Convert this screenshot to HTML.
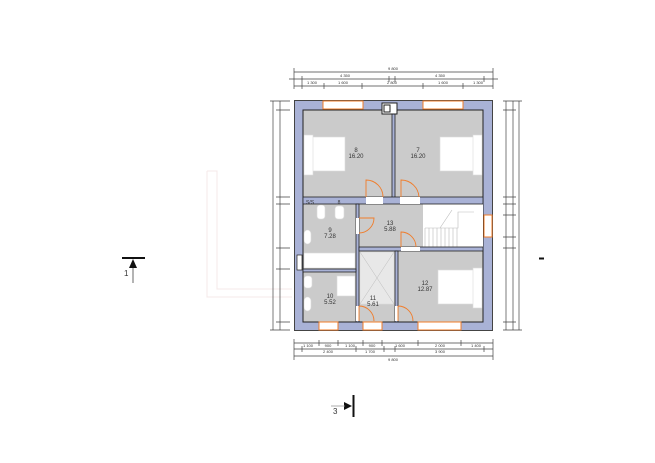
<!DOCTYPE html>
<html><head><meta charset="utf-8"><style>
html,body{margin:0;padding:0;background:#fff;width:655px;height:463px;overflow:hidden}
svg{display:block}
text{font-family:"Liberation Sans",sans-serif;fill:#333}
</style></head><body>
<svg width="655" height="463" viewBox="0 0 655 463" xmlns="http://www.w3.org/2000/svg">
<!-- faint outline left -->
<path d="M207 171 H217 V289 H292 M207 171 V297 H292" fill="none" stroke="#f5e8e8" stroke-width="1"/>
<!-- outer walls -->
<rect x="294.5" y="100.5" width="198" height="230" fill="#a9b2d6" stroke="#444" stroke-width="1"/>
<!-- rooms -->
<rect x="303" y="110" width="180" height="212" fill="#cbcbcb" stroke="#222" stroke-width="1"/>
<!-- stairs -->
<rect x="423" y="204" width="60" height="44" fill="#fff"/>
<g stroke="#bbb" stroke-width="0.6" fill="none">
<path d="M425 228 V247 M429 228 V247 M433 228 V247 M437 228 V247 M441 228 V247 M445 228 V247 M449 228 V247 M453 228 V247 M457 228 V247 M425 228 H458 V212 H474 M440 228 L452 210"/>
</g>
<!-- interior walls -->
<g fill="#a9b2d6" stroke="#222" stroke-width="0.8">
<rect x="392" y="110" width="3" height="88"/>
<rect x="303" y="197" width="180" height="7"/>
<rect x="356" y="204" width="3" height="118"/>
<rect x="303" y="269" width="53" height="3"/>
<rect x="359" y="247" width="124" height="4"/>
<rect x="395" y="251" width="3" height="71"/>
</g>
<!-- door openings -->
<g fill="#fff">
<rect x="366" y="197" width="17" height="7"/>
<rect x="400" y="197" width="20" height="7"/>
<rect x="356" y="218" width="3" height="16"/>
<rect x="401" y="247" width="19" height="4"/>
<rect x="356" y="306" width="3" height="15"/>
<rect x="395" y="306" width="3" height="15"/>
</g>
<!-- door swings -->
<g fill="none" stroke="#f07c2a" stroke-width="0.9">
<path d="M366 197 V180 A17 17 0 0 1 383 197"/>
<path d="M401 197 V180 A18 18 0 0 1 419 197"/>
<path d="M359 218 H374 A15 15 0 0 1 359 233"/>
<path d="M401 247 V232 A15 15 0 0 1 416 247"/>
<path d="M359 306 A15 15 0 0 1 374 321 M359 306 V321"/>
<path d="M398 306 A15 15 0 0 1 413 321 M398 306 V321"/>
</g>
<!-- furniture -->
<g fill="#fff" stroke="#ddd" stroke-width="0.6">
<rect x="304" y="137" width="41" height="34"/>
<rect x="304" y="135" width="9" height="40"/>
<rect x="440" y="137" width="42" height="34"/>
<rect x="473" y="135" width="9" height="40"/>
<rect x="438" y="270" width="44" height="34"/>
<rect x="473" y="268" width="9" height="40"/>
<rect x="304" y="253" width="51" height="15"/>
<rect x="304" y="230" width="7" height="14" rx="4"/>
<rect x="317" y="205" width="8" height="14" rx="3"/>
<rect x="335" y="206" width="9" height="13" rx="3"/>
<rect x="304" y="276" width="8" height="12" rx="3"/>
<rect x="304" y="297" width="7" height="14" rx="4"/>
<rect x="337" y="276" width="18" height="20"/>
<rect x="360" y="252" width="34" height="52" fill="#e8e8e8"/>
</g>
<path d="M360 252 L394 304 M394 252 L360 304" stroke="#bbb" stroke-width="0.5"/>
<!-- windows -->
<g fill="#fff" stroke="#f07c2a" stroke-width="1">
<rect x="323" y="101" width="40" height="8"/>
<rect x="423" y="101" width="40" height="8"/>
<rect x="319" y="322" width="19" height="8"/>
<rect x="363" y="322" width="19" height="8"/>
<rect x="418" y="322" width="43" height="8"/>
<rect x="484" y="215" width="8" height="22"/>
</g>
<!-- chimney -->
<rect x="382" y="103" width="15" height="11" fill="#fff" stroke="#222" stroke-width="1"/>
<rect x="384" y="105" width="6" height="7" fill="none" stroke="#222" stroke-width="1"/>
<rect x="297" y="255" width="5" height="15" fill="#fff" stroke="#222" stroke-width="0.7"/>
<!-- room labels -->
<g font-size="6" text-anchor="middle">
<text x="356" y="152">8</text><text x="356" y="158">16.20</text>
<text x="418" y="152">7</text><text x="418" y="158">16.20</text>
<text x="330" y="232">9</text><text x="330" y="238">7.28</text>
<text x="390" y="225">13</text><text x="390" y="231">5.88</text>
<text x="425" y="285">12</text><text x="425" y="291">12.87</text>
<text x="330" y="298">10</text><text x="330" y="304">5.52</text>
<text x="373" y="300">11</text><text x="373" y="306">5.61</text>
<text x="310" y="204" font-size="5">S/S</text><text x="339" y="204" font-size="5">8</text>
</g>
<!-- dimension lines -->
<g stroke="#444" stroke-width="0.7" fill="none">
<path d="M294 72 H493 M289 79 H498 M294 86 H493"/>
<path d="M294 68 V89 M493 68 V89 M302 76 V89 M389 76 V82 M395 76 V82 M484 76 V82 M324 83 V89 M362 83 V89 M423 83 V89 M463 83 V89"/>
<path d="M294 343 H493 M294 349 H493 M294 356 H493"/>
<path d="M294 339 V360 M493 339 V360 M319 340 V346 M338 340 V346 M363 340 V346 M382 340 V346 M418 340 V346 M461 340 V346 M302 346 V352 M356 346 V352 M384 346 V352 M395 346 V352 M484 346 V352"/>
<path d="M273 101 V330 M280 101 V330 M270 101 H290 M270 330 H290 M276 110 H290 M276 197 H290 M276 204 H290 M276 248 H290 M276 269 H290 M276 322 H290"/>
<path d="M506 101 V330 M513 101 V330 M519 101 V330 M503 101 H522 M503 330 H522 M503 110 H516 M503 197 H516 M503 204 H516 M503 215 H516 M503 237 H516 M503 248 H516 M503 322 H516"/>
</g>
<g font-size="4" fill="#555" text-anchor="middle">
<text x="393" y="70">9 800</text><text x="345" y="77">4 350</text><text x="440" y="77">4 350</text>
<text x="312" y="84">1 300</text><text x="343" y="84">1 600</text><text x="392" y="84">2 800</text><text x="443" y="84">1 600</text><text x="478" y="84">1 300</text>
<text x="308" y="347">1 100</text><text x="328" y="347">900</text><text x="350" y="347">1 100</text><text x="372" y="347">900</text><text x="400" y="347">1 600</text><text x="440" y="347">2 000</text><text x="476" y="347">1 400</text>
<text x="328" y="353">2 400</text><text x="370" y="353">1 700</text><text x="440" y="353">3 900</text><text x="393" y="361">9 800</text>
</g>
<!-- section markers -->
<path d="M122 258 H145" stroke="#111" stroke-width="2"/>
<path d="M133 259 L129 268 H137 Z" fill="#111"/>
<path d="M133 268 V283" stroke="#444" stroke-width="0.8"/>
<text x="124" y="276" font-size="8">1</text>
<path d="M353.5 395 V417" stroke="#111" stroke-width="2"/>
<path d="M352 406 L344 402 V410 Z" fill="#111"/>
<path d="M331 406 H345" stroke="#999" stroke-width="0.8"/>
<text x="333" y="414" font-size="8">3</text>
<path d="M539 258.5 H544" stroke="#111" stroke-width="2"/>
</svg>
</body></html>
